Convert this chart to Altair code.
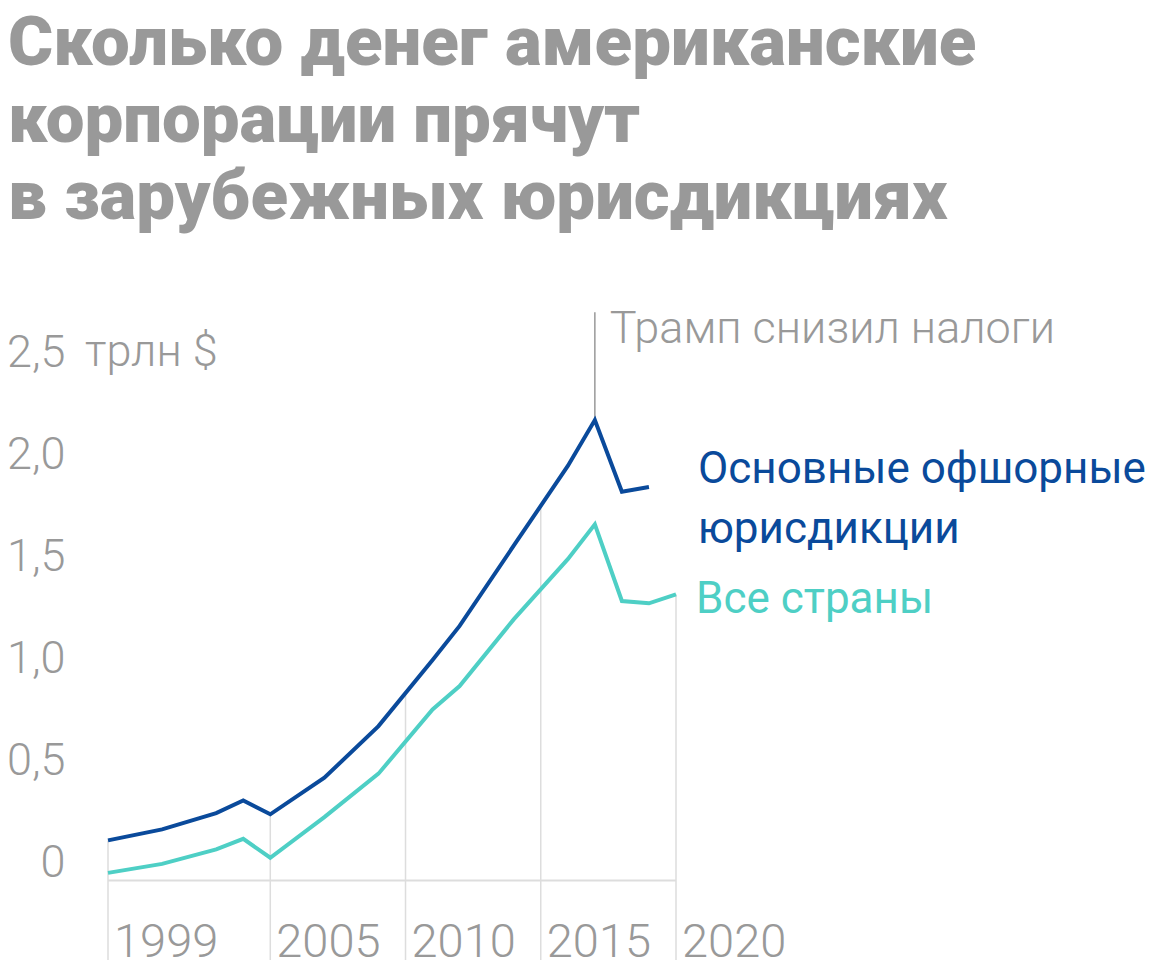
import altair as alt
import pandas as pd

# ---- data ----
years = [1999, 2001, 2003, 2004, 2005, 2007, 2009, 2011, 2012, 2014, 2016, 2017, 2018, 2019, 2020]
offshore = [0.196, 0.25, 0.33, 0.392, 0.324, 0.503, 0.756, 1.08, 1.247, 1.64, 2.031, 2.256, 1.905, 1.928, None]
all_countries = [0.037, 0.081, 0.152, 0.204, 0.111, 0.31, 0.523, 0.838, 0.952, 1.279, 1.574, 1.745, 1.369, 1.358, 1.402]

tick_years = [1999, 2005, 2010, 2015, 2020]
tick_tops = [0.196, 0.324, 0.92, 1.835, 1.402]
y_ticks = [0, 0.5, 1.0, 1.5, 2.0, 2.5]

series_names = ["Основные офшорные юрисдикции", "Все страны"]
series_colors = ["#0a4a9b", "#4ecfc5"]

title_lines = ["Сколько денег американские", "корпорации прячут", "в зарубежных юрисдикциях"]

GREY = "#999999"
FONT = "Roboto"

rows = []
for y, a, b in zip(years, offshore, all_countries):
    if a is not None:
        rows.append({"year": y, "value": a, "series": series_names[0]})
    if b is not None:
        rows.append({"year": y, "value": b, "series": series_names[1]})
df = pd.DataFrame(rows)

ymin, ymax = -0.39, 2.8
xs = alt.Scale(domain=[1999, 2020], nice=False, zero=False)
ys = alt.Scale(domain=[ymin, ymax], nice=False, zero=False)

grid_df = pd.DataFrame({"year": tick_years, "top": tick_tops, "bottom": [ymin] * len(tick_years)})
grid = alt.Chart(grid_df).mark_rule(color="#dddddd", strokeWidth=1.5).encode(
    x=alt.X("year:Q", scale=xs, axis=None),
    y=alt.Y("top:Q", scale=ys, axis=alt.Axis(
        values=y_ticks, orient="left", domain=False, ticks=False, grid=False,
        labelExpr="datum.value == 0 ? '0' : replace(format(datum.value, '.1f'), '.', ',')",
        labelAlign="right", labelBaseline="alphabetic", labelOffset=-4, labelPadding=43,
        labelFont=FONT, labelFontSize=45, labelFontWeight=300, labelColor=GREY, title=None)),
    y2="bottom:Q",
)

base_df = pd.DataFrame({"x1": [tick_years[0]], "x2": [tick_years[-1]], "v": [0]})
baseline = alt.Chart(base_df).mark_rule(color="#dddddd", strokeWidth=2).encode(
    x=alt.X("x1:Q", scale=xs), x2="x2:Q", y=alt.Y("v:Q", scale=ys))

lines = alt.Chart(df).mark_line(strokeWidth=4, strokeJoin="miter").encode(
    x=alt.X("year:Q", scale=xs),
    y=alt.Y("value:Q", scale=ys),
    color=alt.Color("series:N", scale=alt.Scale(domain=series_names, range=series_colors), legend=None),
)

# x tick labels
xlab_df = pd.DataFrame({"year": tick_years, "label": [str(t) for t in tick_years], "v": [ymin] * len(tick_years)})
xlabels = alt.Chart(xlab_df).mark_text(
    align="left", baseline="alphabetic", dx=6, dy=-3, font=FONT, fontSize=47, fontWeight=300, color=GREY
).encode(x=alt.X("year:Q", scale=xs), y=alt.Y("v:Q", scale=ys), text="label:N")

# unit label
unit_df = pd.DataFrame({"year": [1999], "v": [2.5], "label": ["трлн $"]})
unit = alt.Chart(unit_df).mark_text(
    align="left", baseline="alphabetic", dx=-23, dy=-4, font=FONT, fontSize=45, fontWeight=300, color=GREY
).encode(x=alt.X("year:Q", scale=xs), y=alt.Y("v:Q", scale=ys), text="label:N")

# Trump annotation
peak_year = 2017
peak_val = offshore[years.index(peak_year)]
ann_df = pd.DataFrame({"year": [peak_year], "top": [2.784], "peak": [peak_val], "label": ["Трамп снизил налоги"]})
ann_rule = alt.Chart(ann_df).mark_rule(color="#999999", strokeWidth=1.5).encode(
    x=alt.X("year:Q", scale=xs), y=alt.Y("top:Q", scale=ys), y2="peak:Q")
ann_text = alt.Chart(ann_df).mark_text(
    align="left", baseline="alphabetic", dx=15, dy=31, font=FONT, fontSize=45, fontWeight=300, color=GREY
).encode(x=alt.X("year:Q", scale=xs), y=alt.Y("top:Q", scale=ys), text="label:N")

# series labels
lab1_df = pd.DataFrame({"year": [2019], "v": [offshore[years.index(2019)]]})
lab1 = alt.Chart(lab1_df).mark_text(
    align="left", baseline="alphabetic", dx=49, dy=-4, lineHeight=60, font=FONT, fontSize=44,
    fontWeight=400, color=series_colors[0]
).encode(x=alt.X("year:Q", scale=xs), y=alt.Y("v:Q", scale=ys),
         text=alt.value(["Основные офшорные", "юрисдикции"]))

lab2_df = pd.DataFrame({"year": [2020], "v": [all_countries[-1]], "label": ["Все страны"]})
lab2 = alt.Chart(lab2_df).mark_text(
    align="left", baseline="alphabetic", dx=20, dy=19, font=FONT, fontSize=44,
    fontWeight=400, color=series_colors[1]
).encode(x=alt.X("year:Q", scale=xs), y=alt.Y("v:Q", scale=ys), text="label:N")

chart = alt.layer(grid, baseline, ann_rule, lines, xlabels, unit, ann_text, lab1, lab2).properties(
    width=568, height=651,
    autosize=alt.AutoSizeParams(type="none"),
    padding={"left": 100, "top": 301, "right": 476, "bottom": 14},
    title=alt.TitleParams(
        text=title_lines, anchor="start", frame="group", dx=-100, offset=74,
        font=FONT, fontSize=69, fontWeight=900, color=GREY, lineHeight=77,
    ),
).configure_view(stroke=None)

chart.save("out.html", embed_options={"renderer": "svg", "actions": False})
